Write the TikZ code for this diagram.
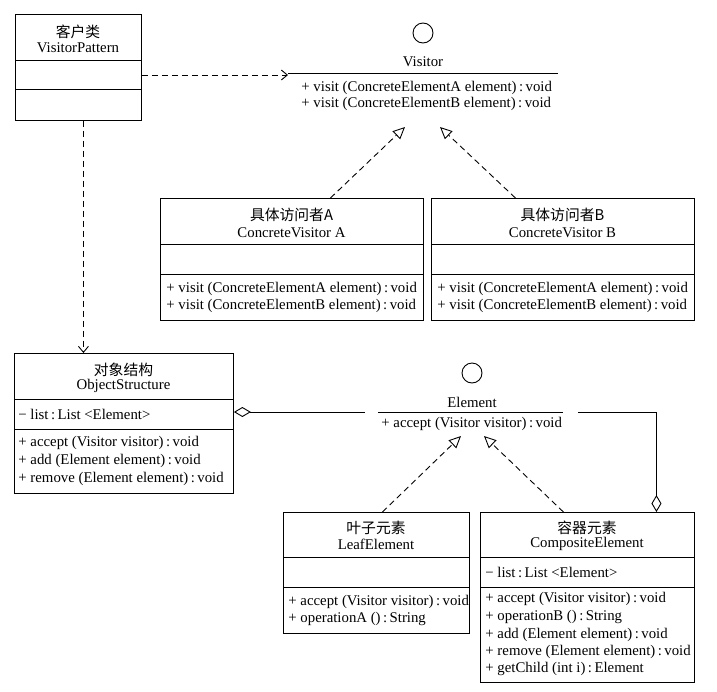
\documentclass[tikz,border=0pt]{standalone}
\usepackage{fontspec}
\setmainfont{Liberation Serif}
\newfontfamily\cjk{Noto Sans CJK SC}
\usetikzlibrary{arrows.meta}
\begin{document}
\begin{tikzpicture}[x=1pt,y=-1pt,
  line width=0.9pt,
  box/.style={draw, inner sep=0, anchor=north west},
  txt/.style={font=\fontsize{14.8}{17}\selectfont, inner sep=0},
  mem/.style={txt, anchor=west},
  ttl/.style={txt, anchor=center},
  dashline/.style={dash pattern=on 6pt off 4pt},
  dep/.style={dashline, -{Straight Barb[length=6pt,width=10pt,line width=0.9pt]}},
  real/.style={dashline, -{Triangle[open,length=12pt,width=11pt,line width=0.9pt]}},
  agg/.style={{Diamond[open,length=17pt,width=10pt,line width=0.9pt]}-},
  iface/.style={circle, draw, minimum size=20pt, inner sep=0}
]
\useasboundingbox (0,0) rectangle (717,691);

% ---------- VisitorPattern ----------
\node[box, minimum width=126pt, minimum height=106pt] (vp) at (15,14) {};
\draw (15,60) -- (141,60);
\draw (15,89) -- (141,89);
\node[ttl] (vpcn) at (78,32) {\cjk 客户类};
\node[ttl] (vpen) at (78,48) {VisitorPattern};

% ---------- Visitor interface ----------
\node[iface] (vcirc) at (423,33) {};
\node[ttl] (vname) at (423,62) {Visitor};
\coordinate (vbarL) at (288,73);
\coordinate (vbarR) at (558,73);
\draw (vbarL) -- (vbarR);
\node[mem] (vm1) at (301,88) {+ visit (ConcreteElementA element)\,:\,void};
\node[mem] (vm2) at (301,104) {+ visit (ConcreteElementB element)\,:\,void};
\coordinate (vtipA) at (405,127);
\coordinate (vtipB) at (440,127);

% ---------- ConcreteVisitor A ----------
\node[box, minimum width=263pt, minimum height=122pt] (cva) at (160,198) {};
\draw (160,244) -- (423,244);
\draw (160,274) -- (423,274);
\node[ttl] (cvacn) at (291.5,215) {\cjk 具体访问者A};
\node[ttl] (cvaen) at (291.5,233) {ConcreteVisitor A};
\node[mem] (cvam1) at (166,289) {+ visit (ConcreteElementA element)\,:\,void};
\node[mem] (cvam2) at (166,306) {+ visit (ConcreteElementB element)\,:\,void};

% ---------- ConcreteVisitor B ----------
\node[box, minimum width=263pt, minimum height=122pt] (cvb) at (431,198) {};
\draw (431,244) -- (694,244);
\draw (431,274) -- (694,274);
\node[ttl] (cvbcn) at (562.5,215) {\cjk 具体访问者B};
\node[ttl] (cvben) at (562.5,233) {ConcreteVisitor B};
\node[mem] (cvbm1) at (437,289) {+ visit (ConcreteElementA element)\,:\,void};
\node[mem] (cvbm2) at (437,306) {+ visit (ConcreteElementB element)\,:\,void};

% ---------- ObjectStructure ----------
\node[box, minimum width=219pt, minimum height=140pt] (os) at (14,353) {};
\draw (14,399) -- (233,399);
\draw (14,429) -- (233,429);
\node[ttl] (oscn) at (123.5,370) {\cjk 对象结构};
\node[ttl] (osen) at (123.5,386) {ObjectStructure};
\node[mem] (osa1) at (18,414) {\textminus\ list\,:\,List <Element>};
\node[mem] (osm1) at (18,443) {+ accept (Visitor visitor)\,:\,void};
\node[mem] (osm2) at (18,461) {+ add (Element element)\,:\,void};
\node[mem] (osm3) at (18,479) {+ remove (Element element)\,:\,void};

% ---------- Element interface ----------
\node[iface] (ecirc) at (472,373) {};
\node[ttl] (ename) at (472,402) {Element};
\coordinate (ebarL) at (378,412);
\coordinate (ebarR) at (563,412);
\draw (ebarL) -- (ebarR);
\node[mem] (em1) at (381,424) {+ accept (Visitor visitor)\,:\,void};
\coordinate (etipA) at (461,436);
\coordinate (etipB) at (484,436);
\coordinate (eaggL) at (365,412);
\coordinate (eaggR) at (578,412);

% ---------- LeafElement ----------
\node[box, minimum width=186pt, minimum height=121pt] (le) at (283,512) {};
\draw (283,557) -- (469,557);
\draw (283,587) -- (469,587);
\node[ttl] (lecn) at (376,528) {\cjk 叶子元素};
\node[ttl] (leen) at (376,544) {LeafElement};
\node[mem] (lem1) at (288,602) {+ accept (Visitor visitor)\,:\,void};
\node[mem] (lem2) at (288,619) {+ operationA ()\,:\,String};

% ---------- CompositeElement ----------
\node[box, minimum width=214pt, minimum height=170pt] (ce) at (480,512) {};
\draw (480,557) -- (694,557);
\draw (480,587) -- (694,587);
\node[ttl] (cecn) at (587,528) {\cjk 容器元素};
\node[ttl] (ceen) at (587,544) {CompositeElement};
\node[mem] (cea1) at (485,572) {\textminus\ list\,:\,List <Element>};
\node[mem] (cem1) at (485,599) {+ accept (Visitor visitor)\,:\,void};
\node[mem] (cem2) at (485,617) {+ operationB ()\,:\,String};
\node[mem] (cem3) at (485,635) {+ add (Element element)\,:\,void};
\node[mem] (cem4) at (485,652) {+ remove (Element element)\,:\,void};
\node[mem] (cem5) at (485,669) {+ getChild (int i)\,:\,Element};

% ---------- connectors ----------
\draw[dep] (vp.east |- 0,75) -- (vbarL |- 0,75);
\draw[dep] ([xshift=5pt]vp.south) -- ([xshift=5pt]vp.south |- os.north);
\draw[real] ([xshift=38.5pt]cva.north) -- (vtipA);
\draw[real] ([xshift=-47.5pt]cvb.north) -- (vtipB);
\draw[real] ([xshift=6pt]le.north) -- (etipA);
\draw[real] ([xshift=-24pt]ce.north) -- (etipB);
\draw[agg] (os.east |- eaggL) -- (eaggL);
\draw[agg] ([xshift=69pt]ce.north) |- (eaggR);
\end{tikzpicture}
\end{document}
